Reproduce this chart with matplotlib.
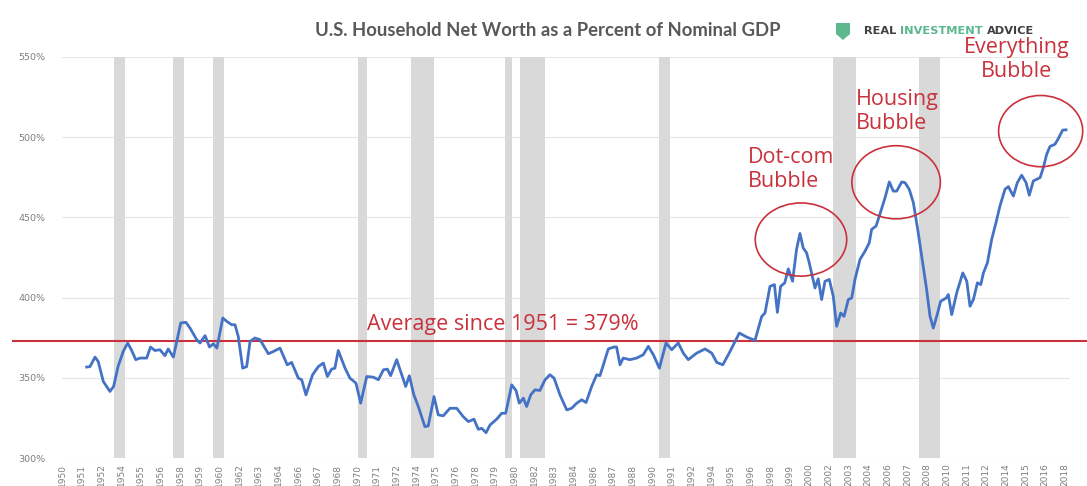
import numpy as np
import matplotlib
matplotlib.use("Agg")
import matplotlib.pyplot as plt
from matplotlib.patches import Ellipse, Polygon

# ---- data (decimal year, % of GDP) ----
years = [1951.67, 1951.9, 1952.24, 1952.46, 1952.8, 1953.25, 1953.5, 1953.8, 1954.15, 1954.45,
         1954.7, 1955.0, 1955.3, 1955.74, 1956.0, 1956.3, 1956.64, 1956.98, 1957.2, 1957.55,
         1957.78, 1958.05, 1958.4, 1958.68, 1959.13, 1959.36, 1959.7, 1960.0, 1960.26, 1960.5,
         1960.9, 1961.17, 1961.5, 1961.73, 1961.95, 1962.25, 1962.52, 1962.75, 1963.08, 1963.42,
         1963.99, 1964.33, 1964.78, 1965.27, 1965.57, 1966.02, 1966.25, 1966.54, 1966.99, 1967.38,
         1967.72, 1967.99, 1968.28, 1968.5, 1968.73, 1969.19, 1969.52, 1969.93, 1970.25, 1970.66,
         1971.11, 1971.45, 1971.79, 1972.06, 1972.28, 1972.69, 1973.03, 1973.3, 1973.55, 1973.85,
         1974.16, 1974.6, 1974.83, 1975.22, 1975.51, 1975.85, 1976.3, 1976.76, 1977.2, 1977.55,
         1977.93, 1978.22, 1978.45, 1978.75, 1979.02, 1979.47, 1979.81, 1980.08, 1980.49, 1980.78,
         1981.0, 1981.28, 1981.5, 1981.78, 1982.07, 1982.4, 1982.75, 1983.08, 1983.36, 1983.76,
         1984.22, 1984.55, 1984.9, 1985.23, 1985.53, 1985.91, 1986.25, 1986.47, 1986.7, 1987.04,
         1987.42, 1987.6, 1987.83, 1988.05, 1988.5, 1988.96, 1989.41, 1989.75, 1990.09, 1990.5,
         1990.95, 1991.34, 1991.78, 1992.12, 1992.46, 1993.03, 1993.6, 1994.05, 1994.39, 1994.8,
         1995.29, 1995.92, 1996.42, 1996.98, 1997.44, 1997.66, 1998.0, 1998.3, 1998.5, 1998.72,
         1999.0, 1999.24, 1999.53, 1999.8, 2000.03, 2000.25, 2000.48, 2000.66, 2001.05, 2001.27,
         2001.5, 2001.73, 2002.02, 2002.29, 2002.52, 2002.79, 2003.02, 2003.31, 2003.54, 2003.76,
         2004.1, 2004.44, 2004.73, 2004.89, 2005.19, 2005.41, 2005.8, 2006.09, 2006.36, 2006.59,
         2006.93, 2007.15, 2007.44, 2007.72, 2008.05, 2008.35, 2008.62, 2008.85, 2009.07, 2009.3,
         2009.57, 2009.95, 2010.09, 2010.32, 2010.66, 2011.07, 2011.34, 2011.56, 2011.79, 2012.06,
         2012.29, 2012.47, 2012.74, 2013.03, 2013.32, 2013.59, 2013.93, 2014.16, 2014.5, 2014.77,
         2015.06, 2015.36, 2015.58, 2015.85, 2016.31, 2016.53, 2016.76, 2016.98, 2017.32, 2017.55,
         2017.84, 2018.07]
net_worth_pct = [356.7, 357.0, 362.9, 360.0, 347.7, 341.5, 344.6, 357.0, 366.4, 371.7,
                 367.5, 361.3, 362.3, 362.3, 369.2, 367.0, 367.5, 363.8, 368.0, 362.9,
                 372.7, 384.2, 384.6, 381.0, 373.8, 371.7, 376.3, 369.2, 371.2, 368.5,
                 387.3, 385.2, 383.1, 383.1, 375.8, 356.0, 357.0, 372.7, 374.8, 373.8,
                 365.0, 366.4, 368.5, 358.1, 359.6, 349.8, 348.8, 339.4, 351.9, 357.0,
                 359.2, 350.8, 355.4, 356.0, 367.0, 356.0, 349.8, 346.7, 334.2, 350.8,
                 350.4, 348.8, 355.0, 355.4, 351.3, 361.3, 351.9, 344.6, 351.3, 339.5,
                 332.0, 319.6, 320.0, 338.3, 326.9, 326.3, 331.0, 331.0, 325.8, 322.7,
                 324.2, 317.9, 318.5, 315.8, 320.6, 324.2, 327.9, 327.9, 345.6, 342.1,
                 334.2, 337.3, 332.1, 339.4, 342.5, 342.1, 348.8, 351.9, 349.8, 339.4,
                 330.0, 331.0, 334.2, 336.3, 334.6, 344.6, 351.9, 351.3, 358.1, 368.0,
                 369.2, 369.2, 358.1, 362.3, 361.3, 362.3, 364.4, 369.6, 364.4, 356.0,
                 371.7, 367.5, 371.7, 365.4, 361.3, 365.4, 368.0, 365.4, 359.6, 358.1,
                 366.4, 377.9, 375.4, 373.3, 388.3, 390.4, 407.0, 408.1, 390.8, 407.0,
                 409.2, 417.9, 410.2, 430.0, 440.0, 431.0, 427.9, 421.7, 406.0, 411.7,
                 398.8, 410.2, 411.3, 400.8, 382.1, 390.4, 388.3, 398.8, 399.8, 411.3,
                 423.8, 428.9, 434.2, 442.5, 444.6, 450.8, 462.3, 472.1, 466.4, 466.4,
                 472.1, 471.7, 467.5, 459.2, 440.4, 421.7, 405.0, 388.3, 381.0, 388.3,
                 397.7, 399.8, 401.9, 389.4, 403.0, 415.4, 410.2, 394.6, 398.8, 409.2,
                 408.1, 415.4, 421.7, 436.3, 446.7, 457.1, 467.5, 469.2, 463.3, 471.7,
                 476.3, 471.7, 463.8, 472.7, 474.8, 481.0, 489.4, 494.2, 495.6, 499.2,
                 504.4, 504.6]

# shaded recession bands as drawn on the chart
recession_start = [1953.55, 1957.55, 1960.25, 1970.05, 1973.65, 1980.0, 1981.05, 1990.5, 2002.3, 2008.1]
recession_end = [1954.25, 1958.3, 1961.0, 1970.7, 1975.2, 1980.5, 1982.75, 1991.2, 2003.8, 2009.5]

average_level = 373
tick_labels = ["1950", "1951", "1952", "1954", "1955", "1956", "1958", "1959", "1960", "1962",
               "1963", "1964", "1966", "1967", "1968", "1970", "1971", "1972", "1974", "1975",
               "1976", "1978", "1979", "1980", "1982", "1983", "1984", "1986", "1987", "1988",
               "1990", "1991", "1992", "1994", "1995", "1996", "1998", "1999", "2000", "2002",
               "2003", "2004", "2006", "2007", "2008", "2010", "2011", "2012", "2014", "2015",
               "2016", "2018"]
y_ticks = [300, 350, 400, 450, 500, 550]

RED = "#c9313c"
BLUE = "#4472c4"
GREY_TXT = "#7f7f7f"
ANN_FONT = dict(color=RED, fontsize=15.5, family="Open Sans", fontweight="medium",
                linespacing=1.18)

fig = plt.figure(figsize=(10.87, 4.86), dpi=100, facecolor="white")
ax = fig.add_axes([62 / 1087, 28 / 486, 1008 / 1087, 401 / 486])
ax.set_xlim(1950, 1950 + 1008 / 14.75)
ax.set_ylim(300, 550)

for s, e in zip(recession_start, recession_end):
    ax.axvspan(s, e, color="#d9d9d9", lw=0, zorder=1)

ax.set_yticks(y_ticks)
ax.set_yticklabels([f"{v}%" for v in y_ticks], fontsize=6.8, color=GREY_TXT)
ax.grid(axis="y", color="#e6e6e6", lw=0.8, zorder=0)
ax.set_axisbelow(True)

tick_pos = [1950 + i * 4 / 3 for i in range(len(tick_labels))]
ax.set_xticks(tick_pos)
ax.set_xticklabels(tick_labels, rotation=90, fontsize=6.5, color=GREY_TXT)
ax.tick_params(length=0, pad=4)
ax.tick_params(axis="y", pad=12)
for sp in ax.spines.values():
    sp.set_visible(False)

ax.plot(years, net_worth_pct, color=BLUE, lw=2, zorder=3)

# average line runs past the plot area on both sides
ax.axhline(average_level, xmin=-0.049, xmax=1.02, color=RED, lw=1.5, clip_on=False, zorder=2)
ax.text(1970.7, 383.5, "Average since 1951 = 379%", va="center", **ANN_FONT)

# bubble annotations
ax.add_patch(Ellipse((2000.1, 436.2), 6.2, 45.6, fill=False, ec=RED, lw=1.2, zorder=4))
ax.add_patch(Ellipse((2006.55, 471.9), 6.0, 45.6, fill=False, ec=RED, lw=1.2, zorder=4))
ax.add_patch(Ellipse((2016.35, 503.8), 5.7, 44.4, fill=False, ec=RED, lw=1.2, zorder=4,
                     clip_on=False))
ax.text(1996.5, 480, "Dot-com\nBubble", va="center", ha="left", **ANN_FONT)
ax.text(2003.8, 516, "Housing\nBubble", va="center", ha="left", **ANN_FONT)
ax.text(2014.7, 548.5, "Everything\nBubble", va="center", ha="center", clip_on=False, **ANN_FONT)

# title and logo
fig.text(548 / 1087, 1 - 31 / 486, "U.S. Household Net Worth as a Percent of Nominal GDP",
         ha="center", va="center", fontsize=13.3, fontweight="bold", color="#595959",
         family="Lato")
shield_px = np.array([[836, 23], [850, 23], [850, 34], [843, 40], [836, 34]])
shield = Polygon(np.column_stack([shield_px[:, 0] / 1087, 1 - shield_px[:, 1] / 486]),
                 closed=True, fc="#5cb88e", ec="none", transform=fig.transFigure)
fig.add_artist(shield)

renderer = fig.canvas.get_renderer()
x_px = 864
for word, col in [("REAL ", "#404040"), ("INVESTMENT ", "#5cb88e"), ("ADVICE", "#404040")]:
    t = fig.text(x_px / 1087, 1 - 31 / 486, word, ha="left", va="center", fontsize=8.2,
                 fontweight="bold", color=col, family="DejaVu Sans")
    x_px += t.get_window_extent(renderer).width

fig.savefig("out.png", dpi=100, facecolor="white")
